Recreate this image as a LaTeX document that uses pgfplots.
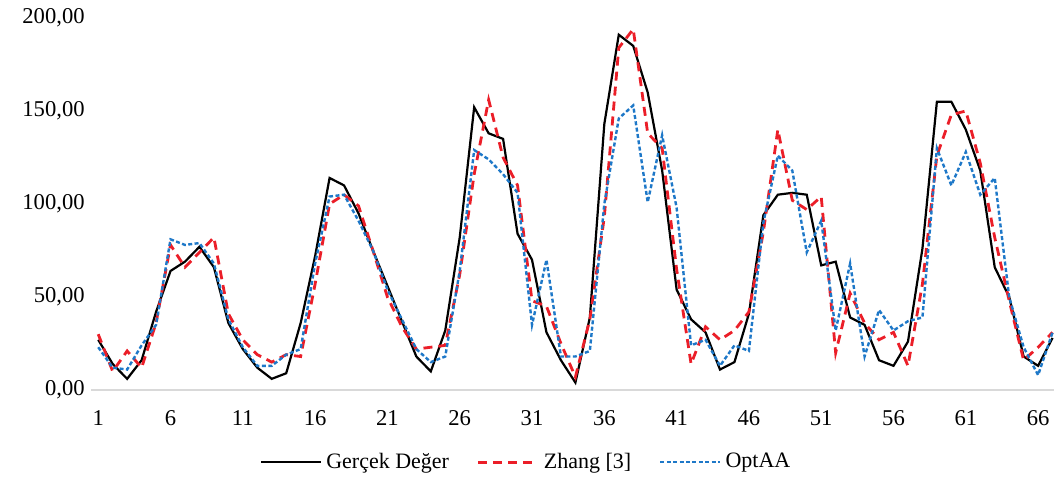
\documentclass[border=0pt]{standalone}
\usepackage{fontspec}
\setmainfont{Liberation Serif}
\usepackage{pgfplots}
\usepackage{pgfplotstable}
\pgfplotsset{compat=1.18}

\definecolor{zred}{RGB}{235,30,40}
\definecolor{oblue}{RGB}{30,120,200}

% i  gercek  zhang  optaa
\pgfplotstableread{
i  real  zhang  opt
1  27  30  23
2  14  10  12
3  6   21  11
4  16  12  24
5  42  36  35
6  64  78  81
7  69  66  78
8  77  74  79
9  66  82  68
10 36  41  38
11 22  27  23
12 12  19  13
13 6   15  13
14 9   19  19
15 36  18  22
16 72  57  68
17 114 100 104
18 110 105 105
19 95  99  91
20 75  75  75
21 56  50  54
22 37  34  38
23 18  22  22
24 10  23  15
25 32  24  18
26 82  62  64
27 152 116 129
28 138 156 124
29 135 125 116
30 84  110 106
31 70  48  35
32 31  45  70
33 16  25  18
34 4   7   18
35 39  38  21
36 143 93  100
37 191 184 146
38 185 194 153
39 160 138 101
40 118 130 137
41 54  65  98
42 38  14  24
43 31  34  27
44 11  27  13
45 15  32  24
46 41  42  21
47 94  85  90
48 105 140 126
49 106 102 118
50 105 97  74
51 67  104 91
52 69  20  32
53 39  52  68
54 35  36  18
55 16  27  43
56 13  31  32
57 26  13  37
58 76  57  39
59 155 126 130
60 155 148 110
61 140 150 128
62 118 122 105
63 66  82  114
64 50  48  50
65 18  16  23
66 13  23  8
67 28  31  31
}\datatable

\begin{document}
\begin{tikzpicture}
\begin{axis}[
    scale only axis,
    width=481.5pt, height=186pt,
    xmin=0.5, xmax=67.1,
    ymin=0, ymax=200,
    xtick={1,6,...,66},
    ytick={0,50,...,200},
    axis x line*=bottom,
    axis y line*=left,
    axis line style={-},
    x axis line style={draw=black!15, line width=0.8pt},
    y axis line style={draw=none},
    major tick length=0pt,
    tick style={draw=none},
    tick label style={font=\fontsize{11.3pt}{13pt}\selectfont},
    /pgf/number format/assume math mode=true,
    yticklabel style={
        /pgf/number format/fixed,
        /pgf/number format/fixed zerofill,
        /pgf/number format/precision=2,
        /pgf/number format/use comma,
        /pgf/number format/1000 sep={},
        anchor=east, inner sep=0pt, xshift=-3pt},
    xticklabel style={anchor=north, inner sep=0pt, yshift=-10pt},
    legend style={
        at={(0.453,-0.194)}, anchor=center,
        draw=none, fill=none,
        legend columns=-1,
        font=\fontsize{11pt}{13pt}\selectfont,
        /tikz/every even column/.append style={column sep=12pt},
    },
    legend image code/.code={\draw[#1] (0pt,0pt) -- (30pt,0pt);},
]
\addplot[black, line width=1.1pt] table[x=i, y=real] {\datatable};
\addplot[zred, line width=1.4pt, dash pattern=on 4.5pt off 3pt] table[x=i, y=zhang] {\datatable};
\addplot[oblue, line width=1.2pt, dash pattern=on 2pt off 1.2pt] table[x=i, y=opt] {\datatable};
\legend{Gerçek Değer, Zhang [3], OptAA}
\end{axis}
\pgfresetboundingbox
\path ([shift={(-45.5pt,-46pt)}]current axis.south west)
  rectangle ([shift={(481.5pt,195pt)}]current axis.south west);
\end{tikzpicture}
\end{document}
